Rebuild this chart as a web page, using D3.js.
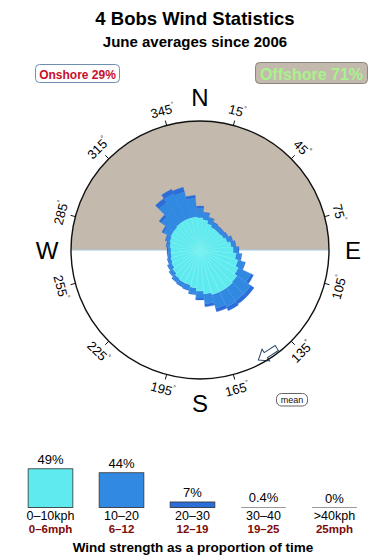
<!DOCTYPE html>
<html>
<head>
<meta charset="utf-8">
<script src="https://cdn.jsdelivr.net/npm/d3@7"></script>
<style>
  body { margin: 0; background: #fff; }
  svg { display: block; font-family: "Liberation Sans", Arial, Helvetica, sans-serif; }
</style>
</head>
<body>
<div id="chart"></div>
<script>
// ---- data ----
const directions = [0,10,20,30,40,50,60,70,80,90,100,110,120,130,140,150,160,170,
                    180,190,200,210,220,230,240,250,260,270,280,290,300,310,320,330,340,350];
// rose radius contributions per speed band (relative units, 129 = rim)
const band0to10  = [32,30,27,25,25,25,26,28,31,33,36,39,42,45,46,46,46,44,41,38,36,36,35,33,31,30,29,29,30,31,32,32,33,33,33,33];
const band10to20 = [10,7,6,5,4,4,4,5,4,5,5,7,14,17,16,17,14,10,7,6,5,4,4,4,4,3,3,3,3,4,8,15,25,29,27,19];
const band20to30 = [2,1,1,1,1,1,1,1,1,1,1,1,3,4,4,4,4,3,2,1,1,1,1,1,1,1,1,1,1,1,2,3,5,5,5,3];
const tickAngles = [15,45,75,105,135,165,195,225,255,285,315,345];
const compass = [{t:"N", a:0}, {t:"E", a:90}, {t:"S", a:180}, {t:"W", a:270}];
const meanDir = 147;

const kphLabels = ["0–10kph","10–20","20–30","30–40",">40kph"];
const mphLabels = ["0–6mph","6–12","12–19","19–25","25mph"];
const shares = [49,44,7,0.4,0];
const shareLabels = ["49%","44%","7%","0.4%","0%"];
const onshore = 29, offshore = 71;

const width = 390, height = 560;
const cx = 200, cy = 250, R = 129;
const bandColors = ["#5eeaee","#3189e2","#2c6ed8","#2c5fd0","#2c50c8"];

const svg = d3.select("#chart").append("svg").attr("width", width).attr("height", height);

// titles
svg.append("text").attr("x", 195).attr("y", 25).attr("text-anchor", "middle")
  .attr("font-size", 18.5).attr("font-weight", "bold").text("4 Bobs Wind Statistics");
svg.append("text").attr("x", 195).attr("y", 47).attr("text-anchor", "middle")
  .attr("font-size", 15).attr("font-weight", "bold").text("June averages since 2006");

// onshore / offshore boxes
svg.append("rect").attr("x", 35.5).attr("y", 64.5).attr("width", 84).attr("height", 18).attr("rx", 4)
  .attr("fill", "#fff").attr("stroke", "#6f8fb3");
svg.append("text").attr("x", 77.5).attr("y", 78.5).attr("text-anchor", "middle")
  .attr("font-size", 12).attr("font-weight", "bold").attr("fill", "#c8102e")
  .text(`Onshore ${onshore}%`);
svg.append("rect").attr("x", 255.5).attr("y", 62.5).attr("width", 112).attr("height", 21).attr("rx", 4)
  .attr("fill", "#c4b9ad").attr("stroke", "#8a857e");
svg.append("text").attr("x", 311.5).attr("y", 79.5).attr("text-anchor", "middle")
  .attr("font-size", 16).attr("font-weight", "bold").attr("fill", "#a9f28c")
  .text(`Offshore ${offshore}%`);

// ---- rose ----
const rose = svg.append("g").attr("transform", `translate(${cx},${cy})`);
const rScale = d3.scaleLinear().domain([0, 129]).range([0, R]);
const rad = d => d * Math.PI / 180;

rose.append("path")
  .attr("d", d3.arc()({innerRadius: 0, outerRadius: R, startAngle: -Math.PI / 2, endAngle: Math.PI / 2}))
  .attr("fill", "#c4b9ad");
rose.append("line").attr("x1", -R).attr("x2", R).attr("y1", 0).attr("y2", 0)
  .attr("stroke", "#a6c8e2").attr("stroke-width", 1.2);

const table = directions.map((a, i) => ({dir: a, b0: band0to10[i], b1: band10to20[i], b2: band20to30[i]}));
const stack = d3.stack().keys(["b0","b1","b2"])(table);

const sector = d3.arc()
  .innerRadius(d => rScale(d[0]))
  .outerRadius(d => rScale(d[1]))
  .startAngle(d => rad(d.data.dir - 5))
  .endAngle(d => rad(d.data.dir + 5));

const layerStroke = ["#7df2f2", "#2f86e0", "#2b6bd6"];
rose.selectAll("g.layer")
  .data(stack.slice().reverse())
  .join("g")
  .attr("class", "layer")
  .attr("fill", d => bandColors[d.index])
  .attr("stroke", d => layerStroke[d.index])
  .attr("stroke-width", d => d.index === 0 ? 0.5 : 0.3)
  .selectAll("path")
  .data(d => d)
  .join("path")
  .attr("d", sector);

// mean arrow
const arrowPts = [[11,0],[2,-7],[2,-3],[-11,-3],[-11,3],[2,3],[2,7]];
rose.append("path")
  .attr("d", d3.line()(arrowPts) + "Z")
  .attr("transform", `translate(${124 * Math.sin(rad(meanDir))},${-124 * Math.cos(rad(meanDir))}) rotate(${meanDir})`)
  .attr("fill", "#fff").attr("stroke", "#2b4a6e").attr("stroke-width", 1);

rose.append("circle").attr("r", R).attr("fill", "none").attr("stroke", "#111").attr("stroke-width", 1.4);

// ticks and labels
rose.selectAll("line.tick")
  .data(tickAngles)
  .join("line")
  .attr("class", "tick")
  .attr("x1", a => R * Math.sin(rad(a))).attr("y1", a => -R * Math.cos(rad(a)))
  .attr("x2", a => (R + 5) * Math.sin(rad(a))).attr("y2", a => -(R + 5) * Math.cos(rad(a)))
  .attr("stroke", "#111");

const tl = rose.selectAll("text.tl")
  .data(tickAngles)
  .join("text")
  .attr("class", "tl")
  .attr("text-anchor", "middle")
  .attr("font-size", 13)
  .attr("transform", a => {
    const L = 144;
    const rot = (a > 90 && a < 270) ? a - 180 : a;
    return `translate(${L * Math.sin(rad(a))},${-L * Math.cos(rad(a))}) rotate(${rot})`;
  })
  .attr("dy", "0.35em");
tl.append("tspan").text(a => a);
tl.append("tspan").attr("font-size", 7).attr("dy", "-0.9em").text("°");

rose.selectAll("text.cmp")
  .data(compass)
  .join("text")
  .attr("class", "cmp")
  .attr("text-anchor", "middle")
  .attr("font-size", 24)
  .attr("x", d => 153 * Math.sin(rad(d.a)))
  .attr("y", d => -153 * Math.cos(rad(d.a)))
  .attr("dy", "0.36em")
  .text(d => d.t);

// mean label
svg.append("rect").attr("x", 276.5).attr("y", 393.5).attr("width", 31).attr("height", 12.5).attr("rx", 5)
  .attr("fill", "#fff").attr("stroke", "#666");
svg.append("text").attr("x", 292).attr("y", 403).attr("text-anchor", "middle")
  .attr("font-size", 9).attr("fill", "#111").text("mean");

// ---- speed bars ----
const x = d3.scaleBand().domain(kphLabels).range([15, 370]).paddingInner(0.37).paddingOuter(0.185);
const y = d3.scaleLinear().domain([0, 50]).range([507.5, 468]);

const bars = svg.append("g");
bars.selectAll("line.base")
  .data(kphLabels)
  .join("line")
  .attr("class", "base")
  .attr("x1", d => x(d)).attr("x2", d => x(d) + x.bandwidth())
  .attr("y1", y(0)).attr("y2", y(0))
  .attr("stroke", "#9a9a9a").attr("stroke-width", 1.2);

bars.selectAll("rect")
  .data(shares.filter(v => y(0) - y(v) >= 1))
  .join("rect")
  .attr("x", (v, i) => x(kphLabels[i]))
  .attr("y", v => y(v))
  .attr("width", x.bandwidth())
  .attr("height", v => y(0) - y(v))
  .attr("fill", (v, i) => bandColors[i])
  .attr("stroke", "#333").attr("stroke-width", 0.8);

bars.selectAll("text.pct")
  .data(shareLabels)
  .join("text")
  .attr("class", "pct")
  .attr("x", (d, i) => x(kphLabels[i]) + x.bandwidth() / 2)
  .attr("y", (d, i) => y(shares[i]) - 5)
  .attr("text-anchor", "middle").attr("font-size", 13)
  .text(d => d);

bars.selectAll("text.kph")
  .data(kphLabels)
  .join("text")
  .attr("class", "kph")
  .attr("x", d => x(d) + x.bandwidth() / 2)
  .attr("y", 519.5)
  .attr("text-anchor", "middle").attr("font-size", 12.5)
  .text(d => d);

bars.selectAll("text.mph")
  .data(mphLabels)
  .join("text")
  .attr("class", "mph")
  .attr("x", (d, i) => x(kphLabels[i]) + x.bandwidth() / 2)
  .attr("y", 533)
  .attr("text-anchor", "middle").attr("font-size", 11.5).attr("font-weight", "bold")
  .attr("fill", "#7d0a0a")
  .text(d => d);

svg.append("text").attr("x", 193).attr("y", 552).attr("text-anchor", "middle")
  .attr("font-size", 13.5).attr("font-weight", "bold").text("Wind strength as a proportion of time");
</script>
</body>
</html>
